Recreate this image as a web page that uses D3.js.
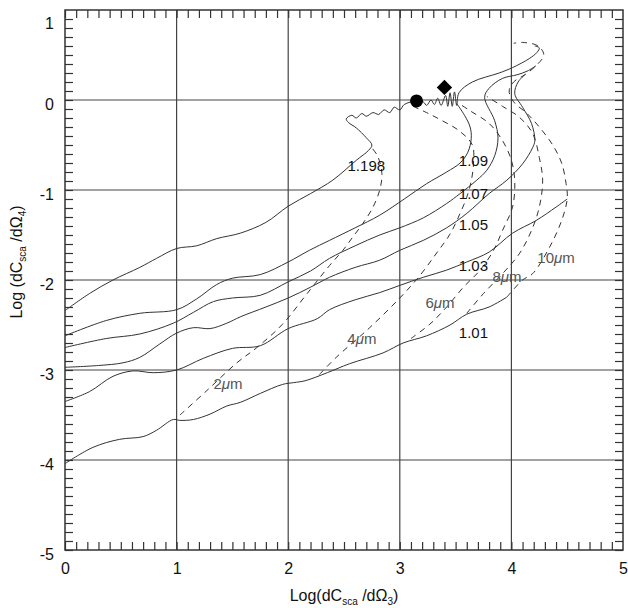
<!DOCTYPE html>
<html>
<head>
<meta charset="utf-8">
<script src="https://cdn.jsdelivr.net/npm/d3@7"></script>
<style>
  body { margin: 0; background: #fff; }
  svg text { font-family: "Liberation Sans", Arial, sans-serif; }
</style>
</head>
<body>
<svg id="chart" width="628" height="608"></svg>
<script>
// solid curves: constant refractive index m, [log dC/dOmega3, log dC/dOmega4]
var m101 = [[0,-4.04],[0.25,-3.86],[0.49,-3.77],[0.7,-3.74],[0.82,-3.67],[0.97,-3.55],[1.03,-3.56],[1.15,-3.55],
    [1.3,-3.49],[1.45,-3.4],[1.57,-3.36],[1.75,-3.26],[1.95,-3.16],[2.05,-3.14],[2.15,-3.12],[2.35,-3.03],
    [2.55,-2.93],[2.85,-2.81],[3.03,-2.7],[3.24,-2.62],[3.45,-2.5],[3.6,-2.38],[3.8,-2.3],[3.96,-2.19]];
var m103 = [[0,-3.35],[0.22,-3.24],[0.43,-3.07],[0.61,-3.01],[0.79,-3.03],[1.0,-3.0],[1.24,-2.87],[1.5,-2.76],
    [1.75,-2.73],[2.0,-2.54],[2.26,-2.43],[2.37,-2.33],[2.6,-2.22],[2.82,-2.14],[3.0,-2.06],[3.21,-1.97],
    [3.42,-1.89],[3.6,-1.8],[3.8,-1.69],[4.01,-1.48],[4.22,-1.34],[4.4,-1.19],[4.5,-1.1]];
var m105 = [[0,-2.97],[0.3,-2.95],[0.52,-2.92],[0.67,-2.86],[0.85,-2.71],[1.0,-2.59],[1.15,-2.53],[1.3,-2.54],
    [1.45,-2.48],[1.57,-2.41],[1.8,-2.3],[2.0,-2.2],[2.2,-2.08],[2.37,-1.97],[2.6,-1.86],[2.82,-1.78],
    [3.0,-1.67],[3.21,-1.56],[3.42,-1.42],[3.6,-1.26],[3.8,-1.04],[3.96,-0.89],[4.1,-0.71],[4.19,-0.53],
    [4.21,-0.45],[4.18,-0.26],[4.1,-0.08],[4.03,0.07],[4.06,0.2],[4.12,0.28]];
var m107 = [[0,-2.75],[0.37,-2.65],[0.67,-2.6],[0.97,-2.48],[1.15,-2.36],[1.33,-2.24],[1.5,-2.2],[1.75,-2.17],
    [2.0,-2.02],[2.2,-1.9],[2.37,-1.76],[2.6,-1.62],[2.82,-1.5],[3.0,-1.42],[3.21,-1.31],[3.42,-1.15],
    [3.54,-1.04],[3.69,-0.89],[3.78,-0.78],[3.85,-0.62],[3.88,-0.42],[3.85,-0.23],[3.76,0.03],[3.8,0.13],
    [3.92,0.24],[4.05,0.28],[4.14,0.32],[4.22,0.38]];
var m109 = [[0,-2.62],[0.37,-2.45],[0.67,-2.37],[1.0,-2.33],[1.18,-2.21],[1.36,-2.05],[1.5,-1.98],[1.75,-1.94],
    [2.0,-1.8],[2.19,-1.67],[2.37,-1.56],[2.6,-1.42],[2.82,-1.28],[3.04,-1.1],[3.24,-0.93],[3.42,-0.8],
    [3.54,-0.7],[3.61,-0.58],[3.64,-0.43],[3.63,-0.3],[3.58,-0.17],[3.51,-0.04]];
var m1198 = [[0,-2.34],[0.22,-2.15],[0.43,-2.0],[0.67,-1.86],[0.82,-1.76],[1.0,-1.65],[1.18,-1.62],[1.36,-1.54],
    [1.57,-1.48],[1.8,-1.36],[2.0,-1.18],[2.2,-1.04],[2.4,-0.89],[2.61,-0.67],[2.72,-0.56],[2.75,-0.5],
    [2.7,-0.42],[2.61,-0.31],[2.54,-0.25],[2.52,-0.21],[2.57,-0.17],[2.61,-0.2],[2.66,-0.15],[2.7,-0.18],
    [2.76,-0.14],[2.81,-0.16],[2.86,-0.11],[2.91,-0.14],[2.95,-0.08],[3.0,-0.11],[3.04,-0.05],[3.15,-0.01],
    [3.21,-0.02],[3.24,-0.06],[3.28,0.0],[3.31,-0.05],[3.34,0.02],[3.37,-0.06],[3.41,0.05],[3.43,-0.07],
    [3.45,0.08],[3.47,-0.07],[3.49,0.09],[3.51,-0.06],[3.53,0.08],[3.65,0.2],[3.89,0.3],[4.01,0.36],
    [4.16,0.46],[4.23,0.53],[4.25,0.58],[4.21,0.6]];

// dashed curves: constant particle size
var d2um = [[1.03,-3.5],[1.27,-3.23],[1.54,-2.92],[1.72,-2.75],[1.95,-2.49],[2.17,-2.15],[2.37,-1.84],
    [2.49,-1.67],[2.58,-1.52],[2.67,-1.37],[2.76,-1.19],[2.82,-1.0],[2.84,-0.82],[2.8,-0.62],[2.74,-0.52]];
var d4um = [[2.28,-3.05],[2.43,-2.86],[2.73,-2.53],[3.0,-2.2],[3.18,-1.95],[3.33,-1.7],[3.45,-1.49],
    [3.54,-1.26],[3.6,-1.08],[3.64,-0.9],[3.66,-0.71],[3.65,-0.5],[3.53,-0.34],[3.38,-0.23],[3.24,-0.14],[3.1,-0.06]];
var d6um = [[3.1,-2.65],[3.27,-2.49],[3.42,-2.3],[3.57,-2.08],[3.72,-1.89],[3.84,-1.67],[3.92,-1.45],
    [4.01,-1.19],[4.03,-0.9],[4.0,-0.67],[3.92,-0.45],[3.8,-0.26],[3.63,-0.12],[3.52,-0.03]];
var d8um = [[3.6,-2.37],[3.75,-2.15],[3.92,-1.93],[4.07,-1.71],[4.18,-1.45],[4.25,-1.19],[4.28,-0.89],
    [4.25,-0.64],[4.19,-0.37],[4.07,-0.19],[3.92,-0.07],[3.78,0.04]];
var d10um = [[3.96,-2.19],[4.1,-2.0],[4.19,-1.93],[4.34,-1.64],[4.45,-1.34],[4.5,-1.1],[4.49,-0.93],
    [4.45,-0.7],[4.37,-0.5],[4.25,-0.3],[4.14,-0.15],[4.02,-0.02],[3.98,0.1],[4.02,0.2],[4.12,0.28],
    [4.22,0.38],[4.29,0.5],[4.24,0.6],[4.1,0.64],[4.02,0.63]];

var solidCurves = [m101, m103, m105, m107, m109, m1198];
var dashedCurves = [d2um, d4um, d6um, d8um, d10um];

// labels: text, anchor in data units
var indexLabels = [["1.198",2.70,-0.73],["1.09",3.66,-0.68],["1.07",3.66,-1.04],["1.05",3.66,-1.39],
    ["1.03",3.66,-1.84],["1.01",3.66,-2.59]];
var sizeLabels = [["2",1.46,-3.15],["4",2.66,-2.65],["6",3.36,-2.25],["8",3.96,-1.97],["10",4.40,-1.75]];

var circleMark = [3.15,-0.01];
var diamondMark = [3.40,0.14];

var xTicks = [0,1,2,3,4,5];
var yTicks = [-5,-4,-3,-2,-1,0,1];

var svg = d3.select("#chart");
var x = d3.scaleLinear().domain([0,5]).range([65,623]);
var y = d3.scaleLinear().domain([-5,1]).range([550,10]);

var minorX = d3.range(0,50).map(function(i){ return i/10; });
var minorY = d3.range(-50,10).map(function(i){ return i/10; });

// grid
svg.append("g").selectAll("line").data([1,2,3,4]).enter().append("line")
    .attr("x1", function(d){ return x(d); }).attr("x2", function(d){ return x(d); })
    .attr("y1", y(-5)).attr("y2", y(1))
    .attr("stroke", "#444").attr("stroke-width", 1.2);
svg.append("g").selectAll("line").data([-4,-3,-2,-1,0]).enter().append("line")
    .attr("y1", function(d){ return y(d); }).attr("y2", function(d){ return y(d); })
    .attr("x1", x(0)).attr("x2", x(5))
    .attr("stroke", "#444").attr("stroke-width", 1.2);

// minor ticks on all four sides, pointing inward
function minorAxis(axis, transform){
    var g = svg.append("g").attr("transform", transform).call(axis);
    g.select(".domain").remove();
    g.selectAll(".tick line").attr("stroke", "#333").attr("stroke-width", 1.2);
    g.selectAll("text").remove();
}
minorAxis(d3.axisBottom(x).tickValues(minorX).tickSize(-8), "translate(0," + y(-5) + ")");
minorAxis(d3.axisTop(x).tickValues(minorX).tickSize(-8), "translate(0," + y(1) + ")");
minorAxis(d3.axisLeft(y).tickValues(minorY).tickSize(-8), "translate(" + x(0) + ",0)");
minorAxis(d3.axisRight(y).tickValues(minorY).tickSize(-8), "translate(" + x(5) + ",0)");

// frame
svg.append("rect").attr("x", x(0)).attr("y", y(1))
    .attr("width", x(5)-x(0)).attr("height", y(-5)-y(1))
    .attr("fill", "none").attr("stroke", "#333").attr("stroke-width", 1.5);

// tick labels (plain hyphen for negatives, like the original)
var fmt = function(d){ return String(d); };
var xa = svg.append("g").attr("transform", "translate(0," + (y(-5)+10) + ")")
    .call(d3.axisBottom(x).tickValues(xTicks).tickSize(0).tickFormat(fmt));
xa.select(".domain").remove();
xa.selectAll("text").attr("font-size", 16).attr("fill", "#111")
    .style("font-family", "'Liberation Sans', Arial, sans-serif");
var ya = svg.append("g").attr("transform", "translate(" + (x(0)-8) + ",4)")
    .call(d3.axisLeft(y).tickValues(yTicks).tickSize(0).tickFormat(fmt));
ya.select(".domain").remove();
ya.selectAll("text").attr("font-size", 16).attr("fill", "#111")
    .style("font-family", "'Liberation Sans', Arial, sans-serif");
ya.selectAll(".tick").filter(function(d){ return d === 1; }).select("text").attr("dy", "0.9em");

// axis titles
var xt = svg.append("text").attr("x", 344).attr("y", 601).attr("text-anchor", "middle")
    .attr("font-size", 16).attr("fill", "#111");
xt.append("tspan").text("Log(dC");
xt.append("tspan").attr("font-size", 10).attr("dy", 4).text("sca");
xt.append("tspan").attr("dy", -4).text(" /d\u03A9");
xt.append("tspan").attr("font-size", 10).attr("dy", 4).text("3");
xt.append("tspan").attr("dy", -4).text(")");

var yt = svg.append("text").attr("transform", "translate(22,262) rotate(-90)")
    .attr("text-anchor", "middle").attr("font-size", 16).attr("fill", "#111");
yt.append("tspan").text("Log (dC");
yt.append("tspan").attr("font-size", 10).attr("dy", 4).text("sca");
yt.append("tspan").attr("dy", -4).text(" /d\u03A9");
yt.append("tspan").attr("font-size", 10).attr("dy", 4).text("4");
yt.append("tspan").attr("dy", -4).text(")");

// curves
var line = d3.line()
    .x(function(d){ return x(d[0]); })
    .y(function(d){ return y(d[1]); })
    .curve(d3.curveCatmullRom.alpha(0.5));

svg.append("g").selectAll("path").data(dashedCurves).enter().append("path")
    .attr("d", line).attr("fill", "none")
    .attr("stroke", "#333").attr("stroke-width", 1)
    .attr("stroke-dasharray", "6,5");
svg.append("g").selectAll("path").data(solidCurves).enter().append("path")
    .attr("d", line).attr("fill", "none")
    .attr("stroke", "#333").attr("stroke-width", 1);

// markers
svg.append("circle").attr("cx", x(circleMark[0])).attr("cy", y(circleMark[1]))
    .attr("r", 6.5).attr("fill", "#000");
svg.append("path").attr("d", d3.symbol().type(d3.symbolDiamond2).size(150))
    .attr("transform", "translate(" + x(diamondMark[0]) + "," + y(diamondMark[1]) + ")")
    .attr("fill", "#000");

// labels
svg.append("g").selectAll("text").data(indexLabels).enter().append("text")
    .attr("x", function(d){ return x(d[1]); })
    .attr("y", function(d){ return y(d[2]) + 5; })
    .attr("text-anchor", "middle").attr("font-size", 15).attr("fill", "#111")
    .text(function(d){ return d[0]; });

var sl = svg.append("g").selectAll("text").data(sizeLabels).enter().append("text")
    .attr("x", function(d){ return x(d[1]); })
    .attr("y", function(d){ return y(d[2]) + 5; })
    .attr("text-anchor", "middle").attr("font-size", 15).attr("fill", "#555");
sl.append("tspan").text(function(d){ return d[0]; });
sl.append("tspan").attr("font-style", "italic").text("\u03BC");
sl.append("tspan").text("m");
</script>
</body>
</html>
